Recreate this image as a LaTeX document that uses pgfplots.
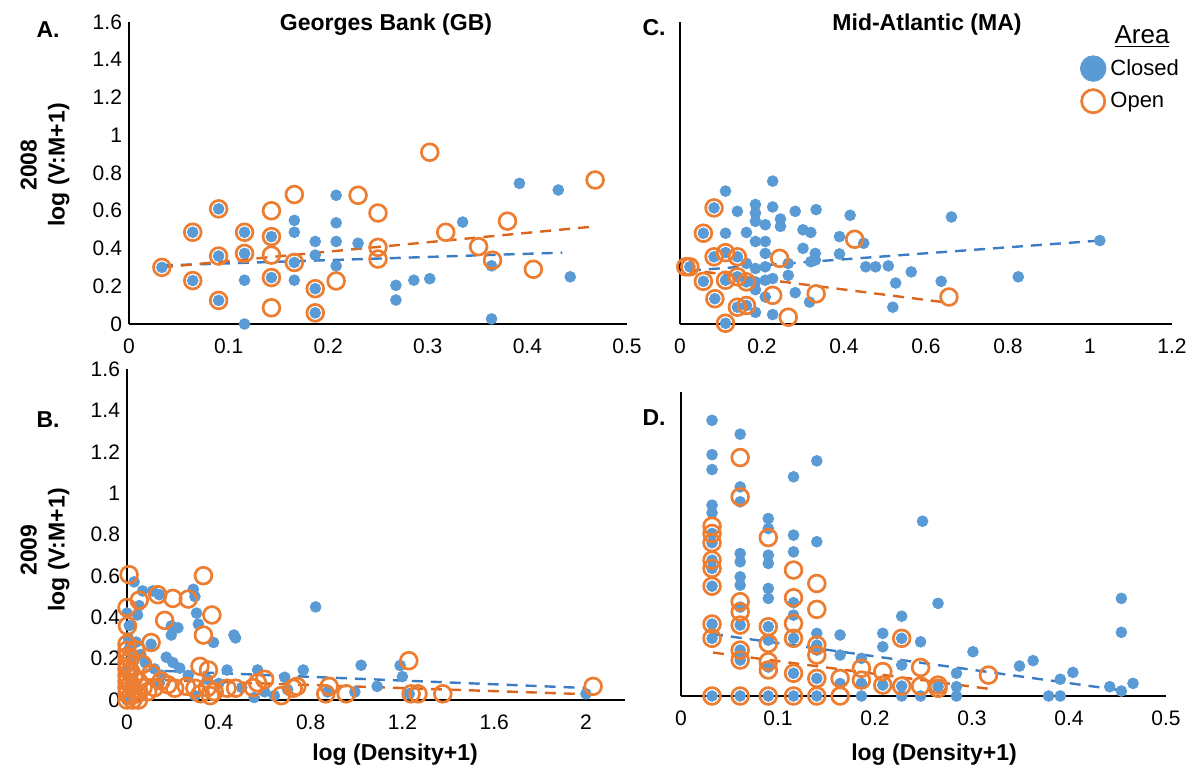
\documentclass[border=0pt]{standalone}
\usepackage{pgfplots}
\pgfplotsset{compat=1.18}
\usepackage{fontspec}
\setmainfont{Liberation Sans}
\definecolor{closedblue}{HTML}{5B9BD5}
\definecolor{openorange}{HTML}{ED7D31}
\definecolor{trendblue}{HTML}{3C7CC2}
\definecolor{trendorange}{HTML}{DA661E}

\pgfplotsset{
  panel/.style={scale only axis, anchor=south west,
    axis x line=bottom, axis y line=left,
    axis line style={-, line width=0.9pt},
    major tick length=0pt, clip=false,
    tick label style={font=\fontsize{10.5}{12}\selectfont},
    /pgf/number format/assume math mode=true,
    xticklabel style={yshift=-4pt}, ymin=0},
  closed/.style={only marks, mark=*, mark size=2.7pt,
    mark options={draw=closedblue, fill=closedblue}},
  open/.style={only marks, mark=o, mark size=4.2pt,
    mark options={draw=openorange, line width=1.35pt}},
  trendC/.style={trendblue, line width=1.2pt, dash pattern=on 5.5pt off 4pt, no marks, forget plot},
  trendO/.style={trendorange, line width=1.2pt, dash pattern=on 5.5pt off 4pt, no marks, forget plot},
}

\begin{document}
\begin{tikzpicture}
\useasboundingbox (0,0) rectangle (594pt,383.5pt);

% A: Georges Bank 2008
\begin{axis}[panel, at={(64.5pt,221.5pt)}, width=249pt, height=151pt,
  xmin=0, xmax=0.5, ymax=1.6,
  xtick={0,0.1,0.2,0.3,0.4,0.5}, ytick={0,0.2,0.4,0.6,0.8,1,1.2,1.4,1.6}]
\addplot[closed] coordinates {(0.033,0.30)(0.064,0.486)(0.064,0.23)(0.09,0.61)(0.09,0.36)(0.09,0.125)(0.116,0.486)(0.116,0.374)(0.143,0.463)(0.143,0.246)(0.166,0.326)(0.187,0.187)(0.187,0.059)(0.364,0.308)(0.116,0.232)(0.116,0.0)(0.166,0.549)(0.166,0.486)(0.166,0.232)(0.187,0.437)(0.187,0.365)(0.208,0.682)(0.208,0.536)(0.208,0.437)(0.208,0.308)(0.23,0.428)(0.268,0.205)(0.268,0.127)(0.286,0.232)(0.302,0.24)(0.335,0.54)(0.364,0.027)(0.392,0.745)(0.431,0.71)(0.443,0.25)};
\addplot[open] coordinates {(0.033,0.30)(0.064,0.486)(0.064,0.23)(0.09,0.61)(0.09,0.36)(0.09,0.125)(0.116,0.486)(0.116,0.374)(0.143,0.60)(0.143,0.463)(0.143,0.365)(0.143,0.246)(0.143,0.086)(0.166,0.686)(0.166,0.326)(0.187,0.187)(0.187,0.059)(0.208,0.228)(0.23,0.682)(0.25,0.588)(0.25,0.406)(0.25,0.344)(0.302,0.91)(0.318,0.486)(0.351,0.41)(0.365,0.338)(0.38,0.545)(0.406,0.29)(0.468,0.763)};
\addplot[trendC] coordinates {(0.033,0.31)(0.435,0.378)};
\addplot[trendO] coordinates {(0.033,0.30)(0.468,0.517)};
\end{axis}

% C: Mid-Atlantic 2008
\begin{axis}[panel, at={(340pt,221.5pt)}, width=246pt, height=151pt,
  xmin=0, xmax=1.2, ymax=1.6,
  xtick={0,0.2,0.4,0.6,0.8,1,1.2}, ytick=\empty,
  legend style={draw=none, fill=none, font=\fontsize{11}{13}\selectfont,
    at={(0.80,0.905)}, anchor=north west, row sep=3pt},
  legend cell align=left]
\addplot[closed, legend image code/.code={\fill[closedblue] (0.25cm,0cm) circle (6.4pt);}] coordinates {(0.111,0.704)(0.226,0.757)(0.083,0.615)(0.14,0.597)(0.184,0.633)(0.184,0.588)(0.184,0.544)(0.208,0.526)(0.226,0.62)(0.245,0.556)(0.245,0.517)(0.281,0.597)(0.332,0.606)(0.415,0.576)(0.662,0.567)(0.057,0.481)(0.111,0.481)(0.162,0.485)(0.184,0.437)(0.208,0.437)(0.3,0.499)(0.319,0.485)(0.389,0.463)(0.448,0.428)(0.3,0.401)(0.33,0.374)(0.389,0.371)(0.208,0.374)(0.264,0.321)(0.319,0.33)(0.33,0.339)(0.453,0.303)(0.477,0.303)(0.508,0.308)(0.564,0.276)(0.637,0.226)(0.825,0.25)(1.024,0.442)(0.526,0.217)(0.519,0.089)(0.162,0.321)(0.184,0.294)(0.208,0.303)(0.184,0.223)(0.208,0.232)(0.226,0.241)(0.264,0.258)(0.184,0.182)(0.208,0.143)(0.281,0.166)(0.316,0.116)(0.184,0.062)(0.226,0.05)(0.111,0.004)(0.024,0.303)(0.057,0.226)(0.085,0.134)(0.111,0.232)(0.14,0.25)(0.162,0.223)(0.14,0.356)(0.111,0.378)(0.083,0.356)(0.14,0.089)(0.162,0.098)};
\addlegendentry{Closed}
\addplot[open, legend image code/.code={\draw[openorange, line width=1.35pt] (0.25cm,0cm) circle (5.8pt);}] coordinates {(0.083,0.615)(0.057,0.481)(0.024,0.303)(0.014,0.303)(0.057,0.226)(0.085,0.134)(0.083,0.356)(0.111,0.378)(0.14,0.356)(0.111,0.232)(0.14,0.25)(0.162,0.223)(0.14,0.089)(0.162,0.098)(0.111,0.004)(0.243,0.348)(0.226,0.152)(0.264,0.036)(0.332,0.16)(0.426,0.449)(0.656,0.143)};
\addlegendentry{Open}
\addplot[trendC] coordinates {(0.024,0.283)(1.024,0.442)};
\addplot[trendO] coordinates {(0.014,0.289)(0.656,0.112)};
\end{axis}

% B: Georges Bank 2009
\begin{axis}[panel, at={(63.5pt,33.5pt)}, width=249pt, height=165.5pt,
  xmin=0, xmax=2.17, ymax=1.6,
  xtick={0,0.4,0.8,1.2,1.6,2}, ytick={0,0.2,0.4,0.6,0.8,1,1.2,1.4,1.6}]
\addplot[closed] coordinates {(0.031,0.571)(0.068,0.527)(0.112,0.527)(0.141,0.509)(0.289,0.535)(0.296,0.5)(0.303,0.42)(0.311,0.367)(0.377,0.278)(0.193,0.358)(0.222,0.349)(0.193,0.314)(0.466,0.314)(0.473,0.3)(0.053,0.456)(0.046,0.411)(0.105,0.27)(0.171,0.207)(0.2,0.181)(0.23,0.154)(0.267,0.119)(0.436,0.145)(0.569,0.145)(0.687,0.11)(0.768,0.145)(0.822,0.45)(1.02,0.168)(1.09,0.066)(1.19,0.167)(1.2,0.113)(1.23,0.03)(2.0,0.03)(0.874,0.039)(0.993,0.039)(0.296,0.021)(0.554,0.012)(0.642,0.021)(0.141,0.083)(0.005,0.3)(0.01,0.25)(0.02,0.2)(0.0,0.15)(0.015,0.1)(0.03,0.05)(0.0,0.0)(0.04,0.28)(0.06,0.22)(0.08,0.18)(0.12,0.15)(0.15,0.12)(0.35,0.1)(0.4,0.08)(0.5,0.06)(0.6,0.04)(0.7,0.05)(0.0,0.42)(0.01,0.36)};
\addplot[open] coordinates {(0.009,0.606)(0.333,0.601)(0.0,0.447)(0.002,0.358)(0.053,0.482)(0.134,0.509)(0.2,0.491)(0.267,0.488)(0.37,0.411)(0.333,0.314)(0.164,0.385)(0.105,0.278)(0.318,0.163)(0.355,0.145)(0.208,0.057)(0.296,0.057)(0.363,0.021)(0.436,0.057)(0.473,0.057)(0.569,0.083)(0.672,0.021)(0.724,0.057)(1.228,0.19)(2.031,0.066)(0.74,0.066)(0.881,0.066)(0.866,0.03)(0.955,0.03)(1.238,0.03)(1.268,0.03)(1.376,0.03)(0.038,0.243)(0.068,0.172)(0.105,0.128)(0.149,0.092)(0.178,0.074)(0.259,0.066)(0.0,0.0)(0.0,0.03)(0.0,0.06)(0.0,0.09)(0.0,0.12)(0.0,0.15)(0.0,0.18)(0.0,0.21)(0.0,0.24)(0.0,0.27)(0.015,0.02)(0.015,0.08)(0.015,0.14)(0.015,0.2)(0.03,0.05)(0.03,0.11)(0.045,0.03)(0.05,0.09)(0.07,0.06)(0.09,0.04)(0.12,0.06)(0.025,0.0)(0.05,0.0)(0.35,0.06)(0.38,0.04)(0.32,0.03)(0.55,0.06)(0.6,0.1)};
\addplot[trendC] coordinates {(0.0,0.148)(2.0,0.058)};
\addplot[trendO] coordinates {(0.0,0.102)(2.031,0.027)};
\end{axis}

% D: Mid-Atlantic 2009
\begin{axis}[panel, at={(340.5pt,35.5pt)}, width=242.5pt, height=152pt,
  xmin=0, xmax=0.5, ymax=1.47,
  xtick={0,0.1,0.2,0.3,0.4,0.5}, ytick=\empty]
\addplot[closed] coordinates {(0.032,1.333)(0.032,1.167)(0.032,1.095)(0.032,0.923)(0.032,0.886)(0.032,0.786)(0.032,0.741)(0.032,0.657)(0.032,0.617)(0.032,0.531)(0.032,0.348)(0.032,0.279)(0.032,0)
(0.061,1.266)(0.061,1.011)(0.061,0.939)(0.061,0.689)(0.061,0.649)(0.061,0.576)(0.061,0.536)(0.061,0.43)(0.061,0.343)(0.061,0.222)(0.061,0.198)(0.061,0.174)(0.061,0)
(0.09,0.858)(0.09,0.81)(0.09,0.681)(0.09,0.641)(0.09,0.52)(0.09,0.472)(0.09,0.335)(0.09,0.27)(0.09,0.14)(0.09,0)
(0.116,1.06)(0.116,0.778)(0.116,0.697)(0.116,0.451)(0.116,0.391)(0.116,0.279)(0.116,0.11)(0.116,0)
(0.14,1.137)(0.14,0.746)(0.14,0.303)(0.14,0.246)(0.14,0.222)(0.14,0.085)(0.14,0)
(0.164,0.295)(0.164,0.198)(0.164,0.06)(0.186,0.182)(0.186,0.061)(0.186,0)
(0.208,0.303)(0.208,0.238)(0.208,0.053)(0.2275,0.386)(0.2275,0.279)(0.2275,0.15)(0.2275,0.048)(0.2275,0)
(0.247,0.262)(0.247,0)(0.249,0.845)(0.265,0.448)(0.265,0.045)(0.284,0.11)(0.284,0.045)(0.284,0)
(0.301,0.214)(0.349,0.145)(0.363,0.171)(0.379,0)(0.391,0.081)(0.391,0)(0.404,0.114)(0.442,0.045)(0.454,0.472)(0.454,0.308)(0.454,0.024)(0.466,0.061)};
\addplot[open] coordinates {(0.032,0.821)(0.032,0.786)(0.032,0.741)(0.032,0.657)(0.032,0.617)(0.032,0.531)(0.032,0.348)(0.032,0.279)(0.032,0)
(0.061,1.153)(0.061,0.963)(0.061,0.456)(0.061,0.407)(0.061,0.343)(0.061,0.222)(0.061,0.174)(0.061,0)
(0.09,0.766)(0.09,0.335)(0.09,0.254)(0.09,0.166)(0.09,0.126)(0.09,0)
(0.116,0.609)(0.116,0.475)(0.116,0.351)(0.116,0.279)(0.116,0.11)(0.116,0)
(0.14,0.544)(0.14,0.419)(0.14,0.246)(0.14,0.198)(0.14,0.085)(0.14,0)
(0.164,0.085)(0.164,0)(0.186,0.134)(0.186,0.077)(0.208,0.118)(0.208,0.053)
(0.2275,0.279)(0.2275,0.048)(0.247,0.138)(0.247,0.048)(0.265,0.037)(0.265,0.053)(0.317,0.101)};
\addplot[trendC] coordinates {(0.032,0.30)(0.45,0.03)};
\addplot[trendO] coordinates {(0.033,0.21)(0.317,0.035)};
\end{axis}

% texts
\node[font=\fontsize{11.5}{13}\selectfont\bfseries] at (193pt,371pt) {Georges Bank (GB)};
\node[font=\fontsize{11.5}{13}\selectfont\bfseries] at (463.5pt,371pt) {Mid-Atlantic (MA)};
\node[font=\fontsize{11.5}{13}\selectfont\bfseries] at (24pt,368.5pt) {A.};
\node[font=\fontsize{11.5}{13}\selectfont\bfseries] at (327pt,369.5pt) {C.};
\node[font=\fontsize{11.5}{13}\selectfont\bfseries] at (24pt,173.5pt) {B.};
\node[font=\fontsize{11.5}{13}\selectfont\bfseries] at (327pt,174.5pt) {D.};
\node[font=\fontsize{11.5}{14}\selectfont\bfseries, rotate=90, align=center] at (22.5pt,301pt) {2008\\log (V:M+1)};
\node[font=\fontsize{11.5}{14}\selectfont\bfseries, rotate=90, align=center] at (22.5pt,108.5pt) {2009\\log (V:M+1)};
\node[font=\fontsize{11.5}{13}\selectfont\bfseries] at (197.5pt,6pt) {log (Density+1)};
\node[font=\fontsize{11.5}{13}\selectfont\bfseries] at (467pt,6pt) {log (Density+1)};
\node[font=\fontsize{13}{15}\selectfont] at (571pt,365pt) {\underline{Area}};
\end{tikzpicture}
\end{document}
